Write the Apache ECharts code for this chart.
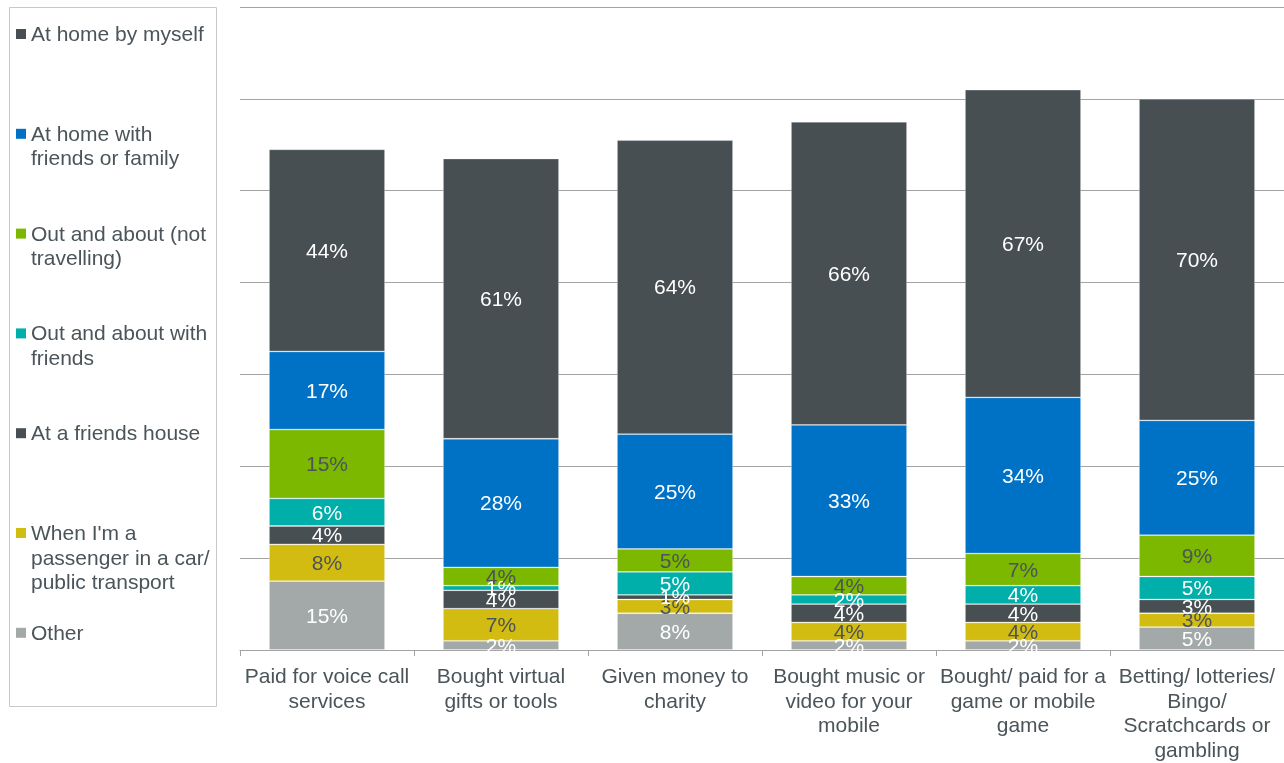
<!DOCTYPE html>
<html>
<head>
<meta charset="utf-8">
<script src="https://cdn.jsdelivr.net/npm/echarts@6/dist/echarts.min.js"></script>
<style>
  html, body { margin: 0; padding: 0; background: #fff; }
  #chart { width: 1284px; height: 763px; }
</style>
</head>
<body>
<div id="chart"></div>
<script>
// Activity categories (x axis)
const categories = [
  'Paid for voice call\nservices',
  'Bought virtual\ngifts or tools',
  'Given money to\ncharity',
  'Bought music or\nvideo for your\nmobile',
  'Bought/ paid for a\ngame or mobile\ngame',
  'Betting/ lotteries/\nBingo/\nScratchcards or\ngambling'
];

// Share of respondents by location (%), stacked bottom to top
const other            = [15, 2, 8, 2, 2, 5];
const passenger        = [8, 7, 3, 4, 4, 3];
const friendsHouse     = [4, 4, 1, 4, 4, 3];
const outWithFriends   = [6, 1, 5, 2, 4, 5];
const outNotTravelling = [15, 4, 5, 4, 7, 9];
const homeWithFamily   = [17, 28, 25, 33, 34, 25];
const homeByMyself     = [44, 61, 64, 66, 67, 70];

// Legend labels, top to bottom
const legendNames = [
  'At home by myself',
  'At home with\nfriends or family',
  'Out and about (not\ntravelling)',
  'Out and about with\nfriends',
  'At a friends house',
  "When I'm a\npassenger in a car/\npublic transport",
  'Other'
];

const C_DARK = '#474f52';
const C_BLUE = '#0072c6';
const C_GREEN = '#7cb800';
const C_TEAL = '#00afa9';
const C_YELLOW = '#d3bc12';
const C_GREY = '#a3a8a8';
const TEXT = '#4a5459';
const FONT = '"Liberation Sans", Arial, sans-serif';
const FS = 21;

// Stack order (bottom first) with matching label colours
const stack = [
  { name: 'Other', data: other, color: C_GREY, label: '#ffffff' },
  { name: "When I'm a passenger in a car/ public transport", data: passenger, color: C_YELLOW, label: TEXT },
  { name: 'At a friends house', data: friendsHouse, color: C_DARK, label: '#ffffff' },
  { name: 'Out and about with friends', data: outWithFriends, color: C_TEAL, label: '#ffffff' },
  { name: 'Out and about (not travelling)', data: outNotTravelling, color: C_GREEN, label: TEXT },
  { name: 'At home with friends or family', data: homeWithFamily, color: C_BLUE, label: '#ffffff' },
  { name: 'At home by myself', data: homeByMyself, color: C_DARK, label: '#ffffff' }
];

const legendColors = [C_DARK, C_BLUE, C_GREEN, C_TEAL, C_DARK, C_YELLOW, C_GREY];

// Legend panel drawn on the left
const legendGraphics = [{
  type: 'rect',
  shape: { x: 9.5, y: 7.5, width: 207, height: 699 },
  style: { fill: 'none', stroke: '#c9c9c9', lineWidth: 1 }
}];
legendNames.forEach((n, i) => {
  const cy = 34 + i * 99.8;
  legendGraphics.push({
    type: 'rect',
    shape: { x: 16, y: cy - 5, width: 10, height: 10 },
    style: { fill: legendColors[i] }
  });
  legendGraphics.push({
    type: 'text',
    style: {
      x: 31, y: cy - 11, text: n,
      font: FS + 'px ' + FONT, lineHeight: 24.5,
      fill: TEXT, verticalAlign: 'top', align: 'left'
    }
  });
});

const chart = echarts.init(document.getElementById('chart'), null, { renderer: 'canvas' });
chart.setOption({
  animation: false,
  backgroundColor: '#ffffff',
  textStyle: { fontFamily: FONT },
  grid: { left: 240, top: 7, width: 1046, bottom: 111, containLabel: false },
  xAxis: {
    type: 'category',
    data: categories,
    axisLine: { lineStyle: { color: '#a3a3a3', width: 1 } },
    axisTick: { show: true, length: 6, alignWithLabel: false, lineStyle: { color: '#a3a3a3' } },
    axisLabel: {
      interval: 0, margin: 15, color: TEXT, fontSize: FS, lineHeight: 24.5,
      fontFamily: FONT, align: 'center'
    }
  },
  yAxis: {
    type: 'value', min: 0, max: 140, interval: 20,
    axisLabel: { show: false },
    axisLine: { show: false },
    axisTick: { show: false },
    splitLine: { lineStyle: { color: '#a3a3a3', width: 1 } }
  },
  graphic: legendGraphics,
  series: stack.map(s => ({
    type: 'bar',
    name: s.name,
    stack: 'total',
    barWidth: 116,
    data: s.data,
    itemStyle: { color: s.color, borderColor: 'rgba(255,255,255,0.35)', borderWidth: 0.8 },
    label: {
      show: true, position: 'inside', formatter: '{c}%', offset: [0, 1.5],
      color: s.label, fontSize: FS, fontFamily: FONT
    }
  }))
});
</script>
</body>
</html>
